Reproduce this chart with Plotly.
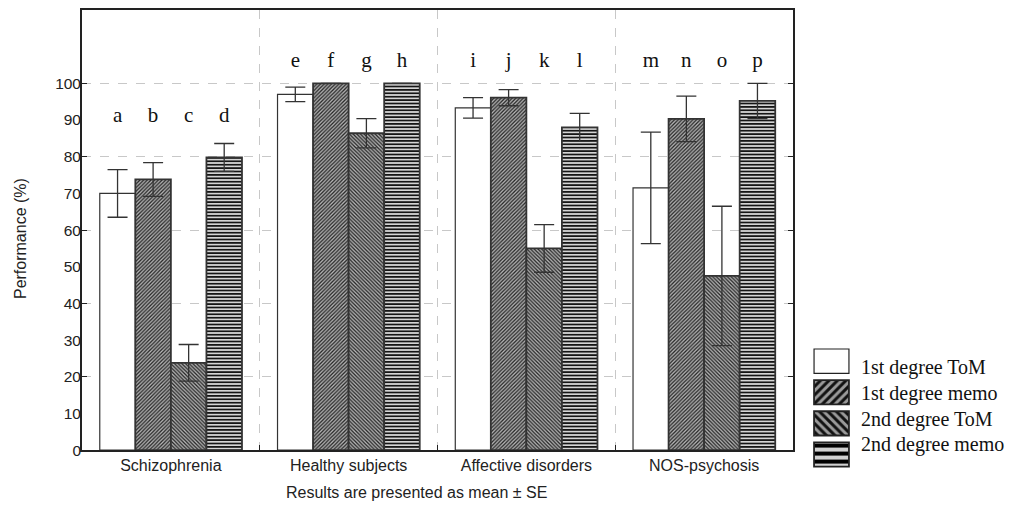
import plotly.graph_objects as go

# ---------------- data ----------------
groups = ["Schizophrenia", "Healthy subjects", "Affective disorders", "NOS-psychosis"]
series_names = ["1st degree ToM", "1st degree memo", "2nd degree ToM", "2nd degree memo"]
tom1 = [70.0, 97.0, 93.3, 71.5]
memo1 = [73.8, 100.0, 96.1, 90.3]
tom2 = [23.8, 86.4, 55.0, 47.5]
memo2 = [79.8, 100.0, 88.0, 95.2]
tom1_se = [6.5, 2.0, 2.8, 15.2]
memo1_se = [4.6, 0.0, 2.2, 6.2]
tom2_se = [5.0, 4.0, 6.5, 19.0]
memo2_se = [3.8, 0.0, 3.8, 4.8]
letters = [["a", "e", "i", "m"], ["b", "f", "j", "n"], ["c", "g", "k", "o"], ["d", "h", "l", "p"]]
letter_level = [91, 106, 106, 106]
y_tick_values = [0, 10, 20, 30, 40, 50, 60, 70, 80, 90, 100]
y_grid_values = [0, 20, 40, 60, 80, 100]

values = [tom1, memo1, tom2, memo2]
errors = [tom1_se, memo1_se, tom2_se, memo2_se]

# ---------------- styles ----------------
shapes_pat = ["", "/", "\\", "-"]
fg = ["#ffffff", "#262626", "#262626", "#151515"]
bg = ["#ffffff", "#b8b8b8", "#b8b8b8", "#d4d4d4"]
pat_size = [4, 2.6, 2.6, 3.4]
line_w = [1.2, 1.8, 1.8, 1.8]
leg_fg = ["#ffffff", "#111111", "#111111", "#000000"]
leg_bg = ["#ffffff", "#9a9a9a", "#9a9a9a", "#d0d0d0"]
leg_size = [5, 6, 6, 8]
edge = "#333333"
sans = "Liberation Sans, Arial, sans-serif"
serif = "Liberation Serif, Times New Roman, serif"

# page body has an 8px margin: work in reference pixels, convert with OFF
OFF = 8
W, H = 1014 - OFF, 508 - OFF
ml, mr, mt, mb = 82 - OFF, 2, 0, 22
pw, ph = W - ml - mr, H - mt - mb


def px_x(px):
    return (px - OFF - ml) / pw


def px_y(py):
    return (H - mb - (py - OFF)) / ph


xdom_main = [0, px_x(793)]
ydom_main = [px_y(450), 1]

bar_w = 0.2
offsets = [(i - 1.5) * bar_w for i in range(4)]
gx = list(range(len(groups)))

fig = go.Figure()

for s in range(4):
    xs = [g + offsets[s] for g in gx]
    fig.add_trace(go.Bar(
        x=xs, y=values[s], width=bar_w, name=series_names[s],
        marker=dict(color=bg[s],
                    line=dict(color=edge, width=line_w[s]),
                    pattern=dict(shape=shapes_pat[s], fgcolor=fg[s], bgcolor=bg[s],
                                 size=pat_size[s], solidity=0.5, fillmode="replace")),
        error_y=dict(type="data", array=errors[s], visible=True,
                     color="#333333", thickness=1.3, width=10),
        showlegend=False,
    ))

# letters above the bars
for s in range(4):
    fig.add_trace(go.Scatter(
        x=[g + offsets[s] for g in gx], y=letter_level, text=letters[s],
        mode="text", textfont=dict(family=serif, size=21, color="#111"),
        showlegend=False, hoverinfo="skip",
    ))

# invisible trace on the overlaying labelled y axis
fig.add_trace(go.Scatter(x=[0], y=[0], yaxis="y3", mode="markers",
                         marker=dict(opacity=0), showlegend=False, hoverinfo="skip"))

# legend swatches (helper subplot), one trace per series
for s in range(4):
    fig.add_trace(go.Bar(
        x=[1], y=[s], orientation="h", xaxis="x2", yaxis="y2", width=0.78,
        marker=dict(color=leg_bg[s], line=dict(color="#222", width=line_w[s]),
                    pattern=dict(shape=shapes_pat[s], fgcolor=leg_fg[s], bgcolor=leg_bg[s],
                                 size=leg_size[s], solidity=0.5, fillmode="replace")),
        showlegend=False, hoverinfo="skip",
    ))

grid_col = "#c8c8c8"
fig.update_layout(
    width=W, height=H,
    margin=dict(l=ml, r=mr, t=mt, b=mb),
    paper_bgcolor="white", plot_bgcolor="white",
    barmode="overlay", bargap=0.2,
    xaxis=dict(domain=xdom_main, range=[-0.5, 3.5], tickmode="array", tickvals=gx,
               ticktext=groups, ticks="", showgrid=False, zeroline=False,
               showline=True, linecolor="#222", linewidth=1.5, mirror=True,
               tickfont=dict(family=sans, size=16, color="#222"),
               minor=dict(tickmode="array", tickvals=[0.5, 1.5, 2.5], ticks="inside",
                          ticklen=5, tickcolor="#222", showgrid=True,
                          gridcolor=grid_col, griddash="dash", gridwidth=1)),
    yaxis=dict(domain=ydom_main, range=[0, 120], tickmode="array", tickvals=y_grid_values,
               showticklabels=False, ticks="inside", ticklen=5, tickcolor="#222",
               showgrid=True, gridcolor=grid_col, griddash="dash", gridwidth=1,
               zeroline=False, showline=True, linecolor="#222", linewidth=1.5,
               mirror="ticks"),
    yaxis3=dict(overlaying="y", side="left", range=[0, 120], tickmode="array",
                tickvals=y_tick_values, ticks="", showgrid=False, zeroline=False,
                showline=False, tickfont=dict(family=sans, size=15.5, color="#222")),
    xaxis2=dict(domain=[px_x(813), px_x(850)], range=[-0.03, 1.03], visible=False,
                anchor="y2"),
    yaxis2=dict(domain=[px_y(470), px_y(345)], range=[3.5, -0.5],
                visible=False, anchor="x2"),
)

# legend labels (text rows are a little tighter than the swatch rows)
for i, name in enumerate(series_names):
    fig.add_annotation(text=name, xref="paper", yref="y2", x=px_x(859),
                       y=0.22 + 0.82 * i, xanchor="left", yanchor="middle", showarrow=False,
                       font=dict(family=serif, size=20, color="#111"))

# axis titles
fig.add_annotation(text="Performance (%)", xref="paper", yref="paper",
                   x=px_x(20), y=px_y(238), textangle=-90,
                   xanchor="center", yanchor="middle", showarrow=False,
                   font=dict(family=sans, size=16, color="#222"))
fig.add_annotation(text="Results are presented as mean ± SE", xref="paper", yref="paper",
                   x=px_x(416), y=px_y(493), xanchor="center",
                   yanchor="middle", showarrow=False,
                   font=dict(family=sans, size=16, color="#222"))

fig.write_html("out.html")
